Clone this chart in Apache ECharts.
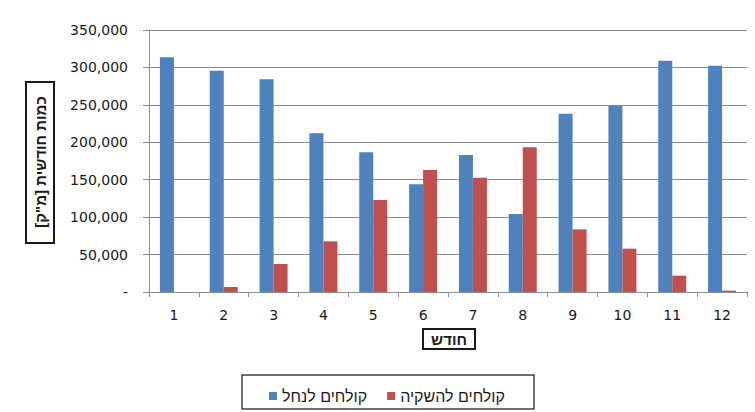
<!DOCTYPE html>
<html lang="he">
<head>
<meta charset="utf-8">
<script src="https://cdn.jsdelivr.net/npm/echarts@6/dist/echarts.min.js"></script>
<style>
  html, body { margin: 0; padding: 0; background: #ffffff; }
  #chart { width: 755px; height: 412px; }
</style>
</head>
<body>
<div id="chart"></div>
<script>
// Months (x axis categories)
const months = ['1', '2', '3', '4', '5', '6', '7', '8', '9', '10', '11', '12'];

// Monthly volume of effluent to the stream [m³]
const toStream = [313500, 295600, 284100, 212000, 186600, 143800, 183000, 104200, 238200, 248900, 309000, 302300];

// Monthly volume of effluent for irrigation [m³]
const toIrrigation = [0, 6700, 37400, 67700, 122900, 163000, 152700, 193300, 83700, 57900, 21800, 1800];

// Series names and axis titles
const seriesNames = ['קולחים לנחל', 'קולחים להשקיה'];
const yTitle = 'כמות חודשית [מ"ק]';
const xTitle = 'חודש';

const FONT = '"DejaVu Sans", "Liberation Sans", sans-serif';
const HEB = '"Liberation Sans", Arial, sans-serif';
const chart = echarts.init(document.getElementById('chart'), null, { renderer: 'svg' });

const fmt = v => v === 0 ? '-' : v.toLocaleString('en-US');

chart.setOption({
  animation: false,
  backgroundColor: '#ffffff',
  grid: { left: 149, top: 30, width: 598, height: 262, containLabel: false },
  xAxis: {
    type: 'category',
    data: months,
    axisLine: { lineStyle: { color: '#8c8c8c', width: 1 } },
    axisTick: { show: true, alignWithLabel: false, length: 5, lineStyle: { color: '#8c8c8c' } },
    axisLabel: { color: '#1a1a1a', fontFamily: FONT, fontSize: 14, margin: 16 },
    splitLine: { show: false }
  },
  yAxis: {
    type: 'value',
    min: 0,
    max: 350000,
    interval: 50000,
    axisLine: { show: true, lineStyle: { color: '#8c8c8c', width: 1 } },
    axisTick: { show: true, length: 6, lineStyle: { color: '#8c8c8c' } },
    axisLabel: { color: '#1a1a1a', fontFamily: FONT, fontSize: 14, margin: 21, formatter: fmt },
    splitLine: { show: true, lineStyle: { color: '#8c8c8c', width: 1 } }
  },
  legend: {
    left: 264,
    top: 383,
    itemWidth: 8,
    itemHeight: 8,
    itemGap: 20,
    icon: 'rect',
    textStyle: { color: '#1a1a1a', fontFamily: HEB, fontSize: 16 },
    data: seriesNames
  },
  graphic: [
    // boxed y-axis title
    { type: 'rect', shape: { x: 26, y: 82, width: 28, height: 161 },
      style: { fill: 'none', stroke: '#1a1a1a', lineWidth: 2 } },
    { type: 'text', x: 40, y: 162, rotation: Math.PI / 2,
      style: { text: yTitle, fill: '#1a1a1a', font: 'bold 15px ' + HEB, align: 'center', verticalAlign: 'middle' } },
    // boxed x-axis title
    { type: 'rect', shape: { x: 423, y: 329, width: 52, height: 20 },
      style: { fill: 'none', stroke: '#1a1a1a', lineWidth: 2 } },
    { type: 'text', x: 449, y: 339,
      style: { text: xTitle, fill: '#1a1a1a', font: 'bold 15px ' + HEB, align: 'center', verticalAlign: 'middle' } },
    // legend frame
    { type: 'rect', shape: { x: 242, y: 375, width: 292, height: 34 },
      style: { fill: 'none', stroke: '#404040', lineWidth: 1.5 } }
  ],
  series: [
    {
      name: seriesNames[0],
      type: 'bar',
      data: toStream,
      barWidth: 14,
      barGap: '0%',
      itemStyle: { color: '#4f81bd' }
    },
    {
      name: seriesNames[1],
      type: 'bar',
      data: toIrrigation,
      barWidth: 14,
      barGap: '0%',
      itemStyle: { color: '#c0504d' }
    }
  ]
});
</script>
</body>
</html>
